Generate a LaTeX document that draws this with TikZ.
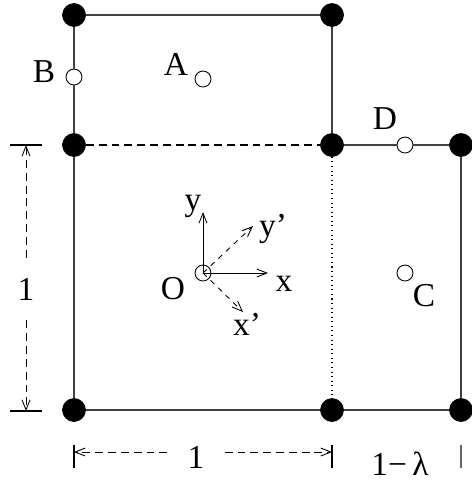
\documentclass[tikz,border=0pt]{standalone}
\usepackage{fontspec}
\setmainfont{Liberation Serif}
\usetikzlibrary{positioning, arrows.meta}
\tikzset{
  >={Straight Barb[length=2mm, width=1.6mm]},
  vertex/.style={draw, circle, fill, inner sep=0pt, minimum size=0.46cm},
  site/.style={draw, circle, fill=white, inner sep=0pt, minimum size=0.32cm, line width=0.5pt},
  lbl/.style={inner sep=0pt, font=\fontsize{19}{22}\selectfont},
  edge/.style={draw=black!75, line width=0.7pt},
  dimline/.style={line width=0.5pt, dash pattern=on 4.5pt off 2.8pt},
}
\begin{document}
\begin{tikzpicture}[x=0.02cm, y=-0.02cm]
  \useasboundingbox (0,0) rectangle (471,481);

  % lattice points
  \node[vertex] (tl) at (74,15) {};
  \node[vertex] (tr) at (332,15) {};
  \node[vertex] (ml) at (74,145) {};
  \node[vertex] (mm) at (332,145) {};
  \node[vertex] (mr) at (461,145) {};
  \node[vertex] (bl) at (74,410) {};
  \node[vertex] (bm) at (332,410) {};
  \node[vertex] (br) at (461,410) {};

  % sites
  \node[site] (B) at (74,77) {};
  \node[site] (A) at (203,79) {};
  \node[site] (D) at (405,145) {};
  \node[site] (C) at (405,273) {};
  \node[site] (O) at (203,273) {};

  % cell edges
  \draw[edge] (tl) -- (tr) -- (mm);
  \draw[edge] (tl) -- (B) -- (ml) -- (bl) -- (bm) -- (br) -- (mr) -- (D) -- (mm);
  \draw[dimline, line width=0.6pt] (ml) -- (mm);
  \draw[dotted, line width=0.6pt] (mm) -- (bm);

  % site labels
  \node[lbl] (Blbl) at (44,72) {B};
  \node[lbl] (Albl) at (176,64) {A};
  \node[lbl] (Dlbl) at (385,119) {D};
  \node[lbl] (Clbl) at (424,296) {C};
  \node[lbl] (Olbl) at (173,289) {O};

  % axes at O
  \coordinate (yend) at (203,212);
  \coordinate (xend) at (268,273);
  \coordinate (ypend) at (253,226);
  \coordinate (xpend) at (243,312);
  \draw[->, line width=0.5pt] (O.center) -- (yend);
  \draw[->, line width=0.5pt] (O.center) -- (xend);
  \draw[->, line width=0.5pt, dashed] (O.center) -- (ypend);
  \draw[->, line width=0.5pt, dashed] (O.center) -- (xpend);
  \node[lbl] (ylbl) at (193,206) {y};
  \node[lbl] (xlbl) at (284,284) {x};
  \node[lbl] (yplbl) at (273,229) {y'};
  \node[lbl] (xplbl) at (247,324) {x'};

  % vertical unit length
  \draw[line width=0.6pt] (10,145) -- (42,145);
  \draw[line width=0.6pt] (10,411) -- (42,411);
  \coordinate (vtop) at (26,145);
  \coordinate (vbot) at (26,411);
  \node[lbl, inner ysep=0.4cm] (onev) at (26,289) {1};
  \draw[->, dimline] (onev) -- (vtop);
  \draw[->, dimline] (onev) -- (vbot);

  % horizontal unit length
  \draw[line width=0.6pt] (74,445) -- (74,468);
  \draw[line width=0.6pt] (332,445) -- (332,468);
  \draw[black!60, line width=0.6pt] (461,445) -- (461,468);
  \coordinate (hleft) at (74,452);
  \coordinate (hright) at (332,452);
  \node[lbl, inner xsep=0.4cm] (oneh) at (196,457) {1};
  \draw[->, dimline] (oneh.west |- hleft) -- (hleft);
  \draw[->, dimline] (oneh.east |- hright) -- (hright);
  \node[lbl] (lamlbl) at (400,464) {1−\,λ};
\end{tikzpicture}
\end{document}
